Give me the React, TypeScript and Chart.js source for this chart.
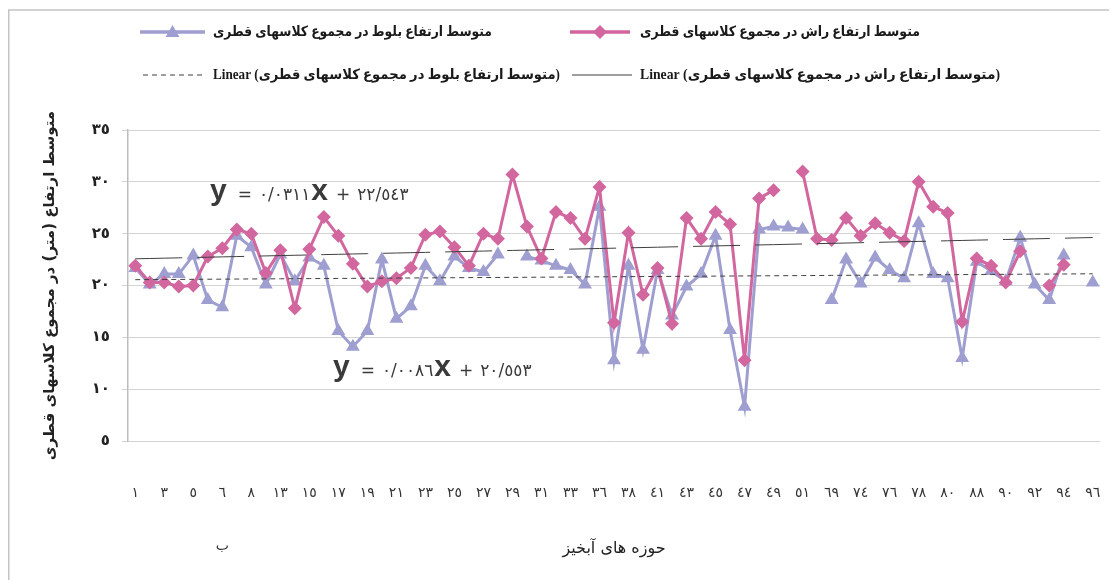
import React, { useEffect, useRef } from 'react';
import { Chart, registerables } from 'chart.js';

Chart.register(...registerables);

// ---------- data ----------
const categories: string[] = [
  '١', '٢', '٣', '٤', '٥', '٦الف', '٦ب', '٧', '٨', '١٢',
  '١٣', '١٤', '١٥', '١٦', '١٧', '١٨', '١٩', '٢٠', '٢١', '٢٢',
  '٢٣', '٢٤', '٢٥', '٢٦', '٢٧', '٢٨', '٢٩', '٣٠', '٣١', '٣٢',
  '٣٣', '٣٥', '٣٦', '٣٧', '٣٨', '٤٠', '٤١', '٤٢', '٤٣', '٤٤',
  '٤٥', '٤٦', '٤٧', '٤٨', '٤٩', '٥٠', '٥١', '٥٢', '٦٩', '٧٢',
  '٧٤', '٧٥', '٧٦', '٧٧', '٧٨', '٧٩', '٨٠', '٨٥', '٨٨', '٨٩',
  '٩٠', '٩١', '٩٢', '٩٣', '٩٤', '٩٥', '٩٦',
];

// متوسط ارتفاع راش (beech) – pink diamonds
const beechHeights: (number | null)[] = [
  21.9, 20.3, 20.3, 19.9, 20.0, 22.8, 23.6, 25.4, 25.0, 21.2,
  23.4, 17.8, 23.5, 26.6, 24.8, 22.1, 19.9, 20.4, 20.7, 21.7,
  24.9, 25.2, 23.7, 21.9, 25.0, 24.5, 30.7, 25.7, 22.6, 27.1,
  26.5, 24.5, 29.5, 16.4, 25.1, 19.1, 21.7, 16.3, 26.5, 24.5,
  27.1, 25.9, 12.8, 28.4, 29.2, null, 31.0, 24.5, 24.4, 26.5,
  24.8, 26.0, 25.1, 24.3, 30.0, 27.6, 27.0, 16.5, 22.6, 21.9,
  20.3, 23.3, null, 20.0, 22.0, null, null,
];

// متوسط ارتفاع بلوط (oak) – lavender triangles
const oakHeights: (number | null)[] = [
  21.7, 20.1, 21.1, 21.1, 22.9, 18.6, 17.9, 24.8, 23.7, 20.1,
  23.0, 20.4, 22.7, 21.9, 15.6, 14.1, 15.6, 22.5, 16.8, 18.0,
  21.9, 20.4, 22.8, 21.7, 21.3, 23.0, null, 22.8, 22.4, 21.9,
  21.5, 20.1, 27.6, 12.8, 21.9, 13.8, 21.5, 17.1, 19.9, 21.1,
  24.8, 15.7, 8.3, 25.4, 25.7, 25.6, 25.4, null, 18.6, 22.5,
  20.2, 22.7, 21.5, 20.7, 26.0, 21.1, 20.7, 13.0, 22.3, 21.4,
  20.4, 24.6, 20.1, 18.6, 22.9, null, 20.3,
];

// trend-line equations shown on the chart
const beechTrendSlope = 0.0311;
const beechTrendIntercept = 22.543;
const oakTrendSlope = 0.0086;
const oakTrendIntercept = 20.553;

const yTicks = { min: 5, max: 35, step: 5 };

const seriesNames = {
  oak: 'متوسط ارتفاع بلوط در مجموع کلاسهای قطری',
  beech: 'متوسط ارتفاع راش در مجموع کلاسهای قطری',
  oakTrend: 'Linear (متوسط ارتفاع بلوط در مجموع کلاسهای قطری)',
  beechTrend: 'Linear (متوسط ارتفاع راش در مجموع کلاسهای قطری)',
};
const xTitle = 'حوزه های آبخیز';
const yTitle = 'متوسط ارتفاع (متر) در مجموع کلاسهای قطری';

// ---------- helpers ----------
const AR_DIGITS = '٠١٢٣٤٥٦٧٨٩';
const toArabicDigits = (s: string) =>
  s.replace(/[0-9]/g, (d) => AR_DIGITS[Number(d)]).replace(/\./g, '/');

const PINK = '#D2669E';
const BLUE = '#9E9ED0';
const TREND = '#3F3F3F';
const FONT = '"DejaVu Sans", sans-serif';
const LEGEND_FONT = 'bold 14px "Liberation Serif", "DejaVu Sans", serif';

const trendValues = (slope: number, intercept: number) =>
  categories.map((_, i) => intercept + slope * (i + 1));

function drawTriangle(ctx: CanvasRenderingContext2D, x: number, y: number, r: number) {
  ctx.beginPath();
  ctx.moveTo(x, y - r);
  ctx.lineTo(x + r * Math.sin((2 * Math.PI) / 3), y - r * Math.cos((2 * Math.PI) / 3));
  ctx.lineTo(x + r * Math.sin((4 * Math.PI) / 3), y - r * Math.cos((4 * Math.PI) / 3));
  ctx.closePath();
  ctx.fill();
}
function drawDiamond(ctx: CanvasRenderingContext2D, x: number, y: number, r: number) {
  ctx.beginPath();
  ctx.moveTo(x, y - r);
  ctx.lineTo(x + r, y);
  ctx.lineTo(x, y + r);
  ctx.lineTo(x - r, y);
  ctx.closePath();
  ctx.fill();
}

const overlayPlugin = {
  id: 'overlay',
  afterDraw(chart: any) {
    const ctx: CanvasRenderingContext2D = chart.ctx;
    ctx.save();

    // outer frame (top & left visible)
    ctx.strokeStyle = '#C4C4C4';
    ctx.lineWidth = 1.5;
    ctx.beginPath();
    ctx.moveTo(0.75, chart.height);
    ctx.lineTo(0.75, 2);
    ctx.lineTo(chart.width, 2);
    ctx.stroke();

    // ---- legend ----
    const items = [
      { kind: 'oak', x0: 132, x1: 197, tx: 205, tw: 279, y: 24, text: seriesNames.oak },
      { kind: 'beech', x0: 562, x1: 622, tx: 632, tw: 280, y: 24, text: seriesNames.beech },
      { kind: 'oakTrend', x0: 135, x1: 197, tx: 205, tw: 347, y: 67, text: seriesNames.oakTrend },
      { kind: 'beechTrend', x0: 564, x1: 624, tx: 632, tw: 360, y: 67, text: seriesNames.beechTrend },
    ];
    for (const it of items) {
      ctx.save();
      if (it.kind === 'oak' || it.kind === 'beech') {
        const c = it.kind === 'oak' ? BLUE : PINK;
        ctx.strokeStyle = c;
        ctx.fillStyle = c;
        ctx.lineWidth = 3.5;
        ctx.beginPath();
        ctx.moveTo(it.x0, it.y);
        ctx.lineTo(it.x1, it.y);
        ctx.stroke();
        const mx = (it.x0 + it.x1) / 2;
        if (it.kind === 'oak') drawTriangle(ctx, mx, it.y + 1, 8);
        else drawDiamond(ctx, mx, it.y, 7);
      } else {
        ctx.strokeStyle = TREND;
        ctx.lineWidth = 1;
        ctx.setLineDash(it.kind === 'oakTrend' ? [5, 4] : []);
        ctx.beginPath();
        ctx.moveTo(it.x0, it.y);
        ctx.lineTo(it.x1, it.y);
        ctx.stroke();
      }
      ctx.restore();
      ctx.fillStyle = '#1a1a1a';
      ctx.font = LEGEND_FONT;
      ctx.textBaseline = 'middle';
      ctx.textAlign = 'left';
      const w = ctx.measureText(it.text).width;
      ctx.fillText(it.text, it.tx, it.y, Math.min(w, it.tw));
    }

    // ---- trend equations ----
    const drawEq = (x: number, y: number, slope: number, intercept: number) => {
      const small = '17px "DejaVu Sans", sans-serif';
      const big = 'bold 30px "Liberation Sans", sans-serif';
      const parts = [
        { t: 'y', f: big, gap: 11 },
        { t: '=', f: small, gap: 7 },
        { t: toArabicDigits(String(slope)), f: small, gap: 1 },
        { t: 'x', f: big, gap: 8 },
        { t: '+', f: small, gap: 7 },
        { t: toArabicDigits(String(intercept)), f: small, gap: 0 },
      ];
      ctx.fillStyle = '#3a3a3a';
      ctx.textBaseline = 'alphabetic';
      ctx.textAlign = 'left';
      let cx = x;
      for (const p of parts) {
        ctx.font = p.f;
        ctx.fillText(p.t, cx, y);
        cx += ctx.measureText(p.t).width + p.gap;
      }
    };
    drawEq(202, 192, beechTrendSlope, beechTrendIntercept);
    drawEq(325, 368, oakTrendSlope, oakTrendIntercept);

    ctx.restore();
  },
};

export default function App() {
  const canvasRef = useRef<HTMLCanvasElement | null>(null);

  useEffect(() => {
    if (!canvasRef.current) return;
    const chart = new Chart(canvasRef.current, {
      type: 'line',
      data: {
        labels: categories,
        datasets: [
          {
            label: seriesNames.beechTrend,
            data: trendValues(beechTrendSlope, beechTrendIntercept),
            borderColor: TREND,
            borderWidth: 1,
            borderDash: [47, 15],
            pointRadius: 0,
            fill: false,
            order: 0,
          },
          {
            label: seriesNames.oakTrend,
            data: trendValues(oakTrendSlope, oakTrendIntercept),
            borderColor: TREND,
            borderWidth: 1,
            borderDash: [5, 4],
            pointRadius: 0,
            fill: false,
            order: 0,
          },
          {
            label: seriesNames.beech,
            data: beechHeights,
            borderColor: PINK,
            backgroundColor: PINK,
            borderWidth: 3,
            pointStyle: 'rectRot',
            pointRadius: 7,
            pointBorderWidth: 0,
            pointBackgroundColor: PINK,
            spanGaps: false,
            order: 1,
          },
          {
            label: seriesNames.oak,
            data: oakHeights,
            borderColor: BLUE,
            backgroundColor: BLUE,
            borderWidth: 3,
            pointStyle: 'triangle',
            pointRadius: 8,
            pointBorderWidth: 0,
            pointBackgroundColor: BLUE,
            spanGaps: false,
            order: 2,
          },
        ],
      },
      options: {
        animation: false,
        responsive: false,
        maintainAspectRatio: false,
        layout: { padding: { top: 122, right: 9, left: 0, bottom: 0 } },
        plugins: { legend: { display: false }, tooltip: { enabled: false } },
        scales: {
          x: {
            type: 'category',
            offset: true,
            grid: { display: false, drawTicks: false },
            border: { display: false },
            ticks: {
              autoSkip: false,
              maxRotation: 0,
              minRotation: 0,
              padding: 44,
              color: '#333333',
              font: { family: FONT, size: 14, lineHeight: 1.26 },
              callback: (_v: any, idx: number) => {
                if (idx % 2 !== 0) return '';
                const lab = categories[idx];
                if (lab.endsWith('ب')) return [lab.slice(0, -1), '', '', 'ب'];
                return lab;
              },
            },
            title: {
              display: true,
              text: xTitle,
              color: '#222222',
              font: { family: FONT, size: 16 },
              padding: { top: 0, bottom: 22 },
            },
            afterFit: (s: any) => {
              s.height = 139;
              s.paddingLeft = 0;
              s.paddingRight = 0;
            },
          },
          y: {
            min: yTicks.min,
            max: yTicks.max,
            ticks: {
              stepSize: yTicks.step,
              padding: 12,
              color: '#222222',
              font: { family: FONT, size: 15, weight: 'bold' },
              callback: (v: any) => toArabicDigits(String(v)),
            },
            grid: { color: '#D3D3D3', lineWidth: 1, drawTicks: true, tickLength: 6 },
            border: { display: true, color: '#BDBDBD', width: 1.5 },
            title: {
              display: true,
              text: yTitle,
              color: '#222222',
              font: { family: FONT, size: 15, weight: 'bold' },
              padding: { top: 33, bottom: 0 },
            },
            afterFit: (s: any) => {
              s.width = 120;
            },
          },
        },
      } as any,
      plugins: [overlayPlugin],
    });
    return () => chart.destroy();
  }, []);

  return (
    <div style={{ width: 1101, height: 572 }}>
      <canvas ref={canvasRef} width={1101} height={572} style={{ display: 'block', width: 1101, height: 572 }} />
    </div>
  );
}
